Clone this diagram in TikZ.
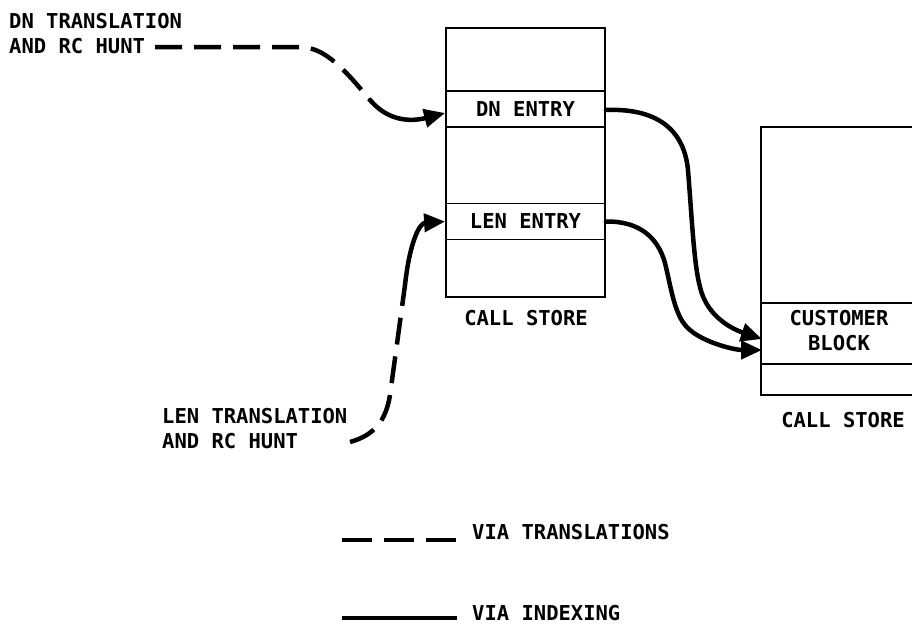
\documentclass[tikz,border=0pt]{standalone}
\usepackage{fontspec}
\setmainfont{DejaVu Sans Mono}
\usetikzlibrary{arrows.meta}
\begin{document}
\begin{tikzpicture}[x=1pt,y=-1pt,
  lbl/.style={font=\fontsize{20.5}{25}\selectfont\bfseries, inner sep=0pt, align=left},
  boxline/.style={draw, line width=1.8pt},
  entry/.style={draw, line width=1.8pt, minimum width=159pt, minimum height=36pt, inner sep=0pt, font=\fontsize{20.5}{25}\selectfont\bfseries},
  conn/.style={line width=4.5pt, line cap=round},
  arrowed/.style={conn, -{Triangle[length=21pt,width=18pt]}},
  dsh/.style={conn, line cap=butt, dash pattern=on 27pt off 12pt},
  legdsh/.style={line width=4.5pt, dash pattern=on 30pt off 12pt}]
\useasboundingbox (0,0) rectangle (912,625);

% left call store
\node[boxline, minimum width=159pt, minimum height=269pt, inner sep=0pt] (cs1) at (525.5,162.5) {};
\node[entry] (dn) at (525.5,109) {DN ENTRY};
\node[entry] (len) at (525.5,221.5) {LEN ENTRY};
\node[lbl, anchor=base] (cs1lbl) at (526,325) {CALL STORE};

% right call store (cut off at right edge)
\draw[line width=1.8pt] (912,127) -| (761,395) -- (912,395);
\draw[line width=1.8pt] (761,303) -- (912,303) (761,364) -- (912,364);
\node[lbl, align=center, anchor=north] (cb) at (839,310) {CUSTOMER\\BLOCK};
\node[lbl, anchor=base] (cs2lbl) at (843,427) {CALL STORE};
\coordinate (cbin1) at (762,339);
\coordinate (cbin2) at (762,350);

% source labels
\node[lbl, anchor=north west] (dnsrc) at (9,13) {DN TRANSLATION\\AND RC HUNT};
\node[lbl, anchor=north west] (lensrc) at (162,408) {LEN TRANSLATION\\AND RC HUNT};
\coordinate (dnstart) at (155,47);
\coordinate (dnmid) at (370,100);
\coordinate (lenstart) at (350,442);
\coordinate (lenmid) at (405,285);

% translations (dashed) then indexing (solid)
\draw[dsh] (dnstart) -- (300,47) .. controls (325,47) and (345,70) .. (dnmid);
\draw[arrowed] (dnmid) .. controls (388,121) and (410,122) .. ([yshift=-4pt]dn.west);
\draw[dsh] (lenstart) .. controls (375,435) and (386,420) .. (390,395) -- (lenmid);
\draw[arrowed] (lenmid) .. controls (410,240) and (420,223) .. (len.west);

% indexing to customer block
\draw[arrowed] ([yshift=-1pt]dn.east) .. controls (655,108) and (684,128) .. (688,170)
  .. controls (692,220) and (694,265) .. (700,287)
  .. controls (707,318) and (735,330) .. (cbin1);
\draw[arrowed] (len.east) .. controls (640,221) and (658,238) .. (665,263)
  .. controls (672,292) and (675,318) .. (690,330)
  .. controls (705,343) and (735,350) .. (cbin2);

% legend
\coordinate (lt1) at (342,540);
\coordinate (lt2) at (456,540);
\coordinate (li1) at (342,618);
\coordinate (li2) at (457,618);
\draw[legdsh] (lt1) -- (lt2);
\draw[line width=4.5pt] (li1) -- (li2);
\node[lbl, anchor=base west] (legT) at (472,539) {VIA TRANSLATIONS};
\node[lbl, anchor=base west] (legI) at (472,620) {VIA INDEXING};
\end{tikzpicture}
\end{document}
